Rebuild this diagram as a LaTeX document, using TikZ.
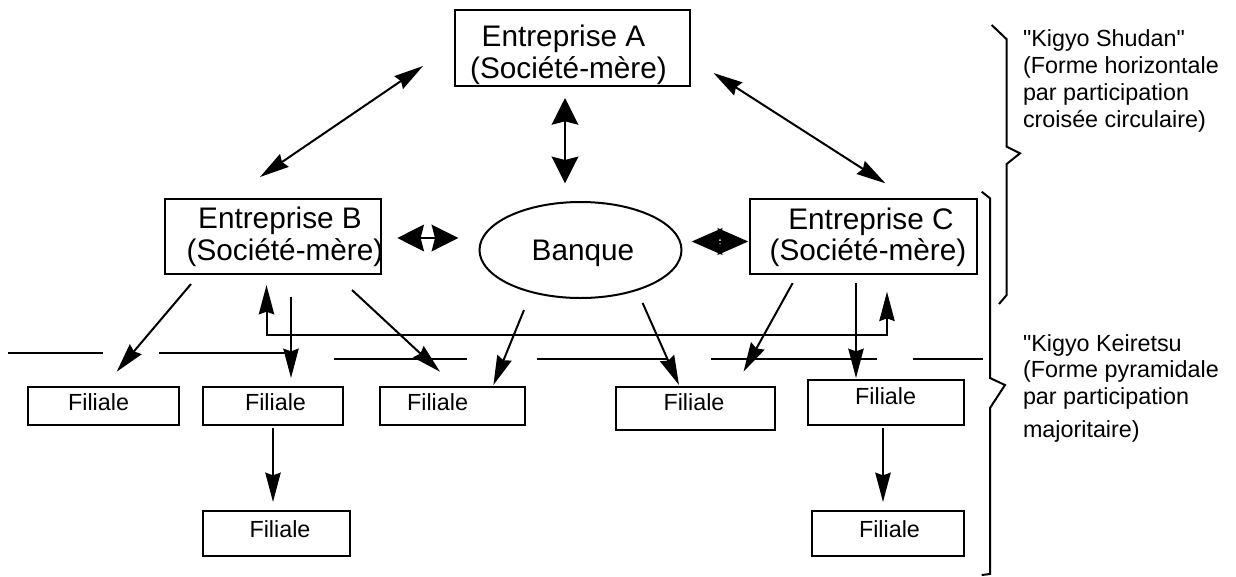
\documentclass[tikz,border=0pt]{standalone}
\usepackage{fontspec}
\setmainfont{Liberation Sans}
\usetikzlibrary{arrows.meta,shapes.geometric}
\begin{document}
\begin{tikzpicture}[x=0.75pt,y=-0.75pt,line width=1.5pt,
  box/.style={draw, line width=1.5pt, inner sep=0pt, rectangle},
  big/.style={inner sep=0pt, anchor=base, font=\fontsize{22.3}{24}\selectfont},
  small/.style={inner sep=0pt, anchor=base, font=\fontsize{17.5}{20}\selectfont},
  note/.style={small, anchor=base west},
  arr/.style={-{Stealth[length=22pt,width=11.5pt,inset=2pt]}},
  arrboth/.style={{Stealth[length=22pt,width=11.5pt,inset=2pt]}-{Stealth[length=22pt,width=11.5pt,inset=2pt]}},
  fatboth/.style={{Stealth[length=20pt,width=20pt,inset=2.5pt]}-{Stealth[length=20pt,width=20pt,inset=2.5pt]}},
  fatboth2/.style={{Stealth[length=23pt,width=20pt,inset=2.5pt]}-{Stealth[length=23pt,width=20pt,inset=2.5pt]}},
  brace/.style={line width=1.5pt, line join=miter},
  sepline/.style={line width=1.5pt}
]
\fill[white] (0,0) rectangle (1236,576);
\useasboundingbox (0,0) rectangle (1236,576);

% main boxes
\node[box, minimum width=176.25pt, minimum height=57pt] (A) at (572.5,48) {};
\node[box, minimum width=162pt, minimum height=56.25pt] (B) at (273,236.5) {};
\node[box, minimum width=170.25pt, minimum height=56.25pt] (C) at (863.5,236.5) {};
\node[ellipse, draw, line width=1.5pt, inner sep=0pt, minimum width=151.5pt, minimum height=72pt] (bank) at (580.5,250) {};

\node[big] (At1) at (563.5,46) {Entreprise A};
\node[big] (At2) at (568.5,78) {(Société-mère)};
\node[big] (Bt1) at (280,228) {Entreprise B};
\node[big] (Bt2) at (285,260) {(Société-mère)};
\node[big] (Ct1) at (871,229) {Entreprise C};
\node[big] (Ct2) at (868,260) {(Société-mère)};
\node[big] (bankt) at (583,260) {Banque};

% subsidiaries
\node[box, minimum width=113.25pt, minimum height=28.5pt] (F1) at (103.5,406) {};
\node[box, minimum width=105pt, minimum height=28.5pt] (F2) at (273,406) {};
\node[box, minimum width=108.75pt, minimum height=28.5pt] (F3) at (452.5,406) {};
\node[box, minimum width=110.25pt, minimum height=33.75pt] (F4) at (276.5,533.5) {};
\node[box, minimum width=119.25pt, minimum height=32.25pt] (F5) at (695.5,408.5) {};
\node[box, minimum width=117pt, minimum height=33.75pt] (F6) at (886,402.5) {};
\node[box, minimum width=114pt, minimum height=33.75pt] (F7) at (888,533.5) {};

\node[small] (F1t) at (98.6,410) {Filiale};
\node[small] (F2t) at (275.5,410) {Filiale};
\node[small] (F3t) at (437.6,410) {Filiale};
\node[small] (F4t) at (280,537) {Filiale};
\node[small] (F5t) at (694,410) {Filiale};
\node[small] (F6t) at (885.6,404) {Filiale};
\node[small] (F7t) at (889.5,537) {Filiale};

% notes
\node[note] (s1) at (1022,46) {\textquotedbl Kigyo Shudan\textquotedbl};
\node[note] (s2) at (1022,73) {(Forme horizontale};
\node[note] (s3) at (1022,100) {par participation};
\node[note] (s4) at (1022,127) {croisée circulaire)};
\node[note] (k1) at (1022,351) {\textquotedbl Kigyo Keiretsu};
\node[note] (k2) at (1022,377.5) {(Forme pyramidale};
\node[note] (k3) at (1022,404) {par participation};
\node[note] (k4) at (1022,437) {majoritaire)};

% arrow end points
\coordinate (ab1) at (423,66);   \coordinate (ab2) at (260,177);
\coordinate (ac1) at (713.5,73); \coordinate (ac2) at (885.4,183.3);
\coordinate (az1) at (565,98);   \coordinate (az2) at (565,183.3);
\coordinate (bz1) at (397.3,238);\coordinate (bz2) at (458.3,238);
\coordinate (cz1) at (691.7,241.5);\coordinate (cz2) at (748.3,241.5);
\coordinate (b1s) at (191,284);  \coordinate (b1e) at (116.7,371.7);
\coordinate (b2s) at (291,297);  \coordinate (b2e) at (291,378);
\coordinate (b3s) at (352,290);  \coordinate (b3e) at (440,371.7);
\coordinate (z3s) at (524,310);  \coordinate (z3e) at (493.4,385);
\coordinate (z5s) at (642.6,303);\coordinate (z5e) at (679,385);
\coordinate (c5s) at (792.7,283);\coordinate (c5e) at (743.5,371.7);
\coordinate (c6s) at (856,283);  \coordinate (c6e) at (856,378);
\coordinate (f4s) at (273,428);  \coordinate (f4e) at (273,502);
\coordinate (f7s) at (883,428);  \coordinate (f7e) at (883,502);
\coordinate (lupB) at (266.5,285); \coordinate (lcB) at (266.5,334.7);
\coordinate (lcC) at (887,334.7);  \coordinate (lupC) at (887,291.7);

% connectors
\draw[arrboth] (ab1) -- (ab2);
\draw[arrboth] (ac1) -- (ac2);
\draw[fatboth] (az1) -- (az2);
\draw[fatboth] (bz1) -- (bz2);
\draw[fatboth2] (cz1) -- (cz2);
\draw[arr] (b1s) -- (b1e);
\draw[arr] (b2s) -- (b2e);
\draw[arr] (b3s) -- (b3e);
\draw[arr] (z3s) -- (z3e);
\draw[arr] (z5s) -- (z5e);
\draw[arr] (c5s) -- (c5e);
\draw[arr] (c6s) -- (c6e);
\draw[arr] (f4s) -- (f4e);
\draw[arr] (f7s) -- (f7e);
\draw[arrboth] (lupB) -- (lcB) -- (lcC) -- (lupC);

% separator line segments
\draw[sepline] (8.3,352.7) -- (103.3,352.7);
\draw[sepline] (159.3,352.7) -- (291,352.7);
\draw[sepline] (334.3,359.3) -- (466.7,359.3);
\draw[sepline] (536.7,359.3) -- (668,359.3);
\draw[sepline] (711,359.3) -- (876.7,359.3);
\draw[sepline] (912.7,359.3) -- (982.7,359.3);

% braces
\draw[brace] (991.7,25) -- (1006.7,39.3) -- (1006.7,146.7) -- (1020,153.3) -- (1006.7,164) -- (1006.7,295) -- (999,304);
\draw[brace] (981.7,191.7) -- (990,198.3) -- (990,378) -- (1005,385) -- (990,408) -- (990,574) -- (981.7,575);
\end{tikzpicture}
\end{document}
